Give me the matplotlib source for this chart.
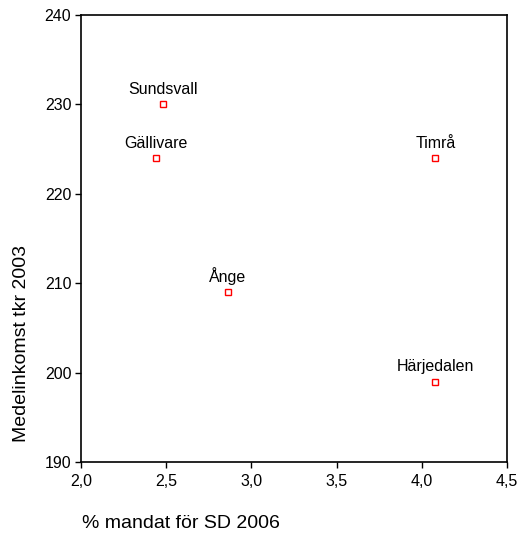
import matplotlib
matplotlib.use("Agg")
import matplotlib.pyplot as plt
from matplotlib.ticker import FuncFormatter, MultipleLocator

plt.rcParams['font.family'] = ['Liberation Sans', 'DejaVu Sans']

kommuner = ["Sundsvall", "Gällivare", "Timrå", "Ånge", "Härjedalen"]
sd_mandat = [2.48, 2.44, 4.08, 2.86, 4.08]
medelinkomst = [230, 224, 224, 209, 199]

fig = plt.figure(figsize=(5.18, 5.42), dpi=100)
ax = fig.add_axes([81/518, 1-462/542, (507-81)/518, (462-15)/542])

ax.plot(sd_mandat, medelinkomst, linestyle='none', marker='s', markersize=5,
        markerfacecolor='white', markeredgecolor='#ff0000', markeredgewidth=1.0)
for name, x, y in zip(kommuner, sd_mandat, medelinkomst):
    ax.annotate(name, (x, y), xytext=(0, 7.5), textcoords='offset points',
                ha='center', va='baseline', fontsize=11.5, color='black')

ax.set_xlim(2.0, 4.5)
ax.set_ylim(190, 240)
ax.xaxis.set_major_locator(MultipleLocator(0.5))
ax.yaxis.set_major_locator(MultipleLocator(10))
ax.xaxis.set_major_formatter(FuncFormatter(lambda v, p: f"{v:.1f}".replace('.', ',')))
ax.yaxis.set_major_formatter(FuncFormatter(lambda v, p: f"{v:.0f}"))
ax.tick_params(axis='both', direction='out', length=4, width=1, labelsize=11.5,
               colors='black', pad=3)
ax.tick_params(axis='x', pad=5)
for s in ax.spines.values():
    s.set_color('black')
    s.set_linewidth(1.2)

fig.text(22/518, 1-344/542, "Medelinkomst tkr 2003", rotation=90,
         ha='center', va='center', fontsize=14)
fig.text(82/518, 1-523/542, "% mandat för SD 2006", ha='left', va='center',
         fontsize=14)

fig.savefig("out.png", dpi=100)
